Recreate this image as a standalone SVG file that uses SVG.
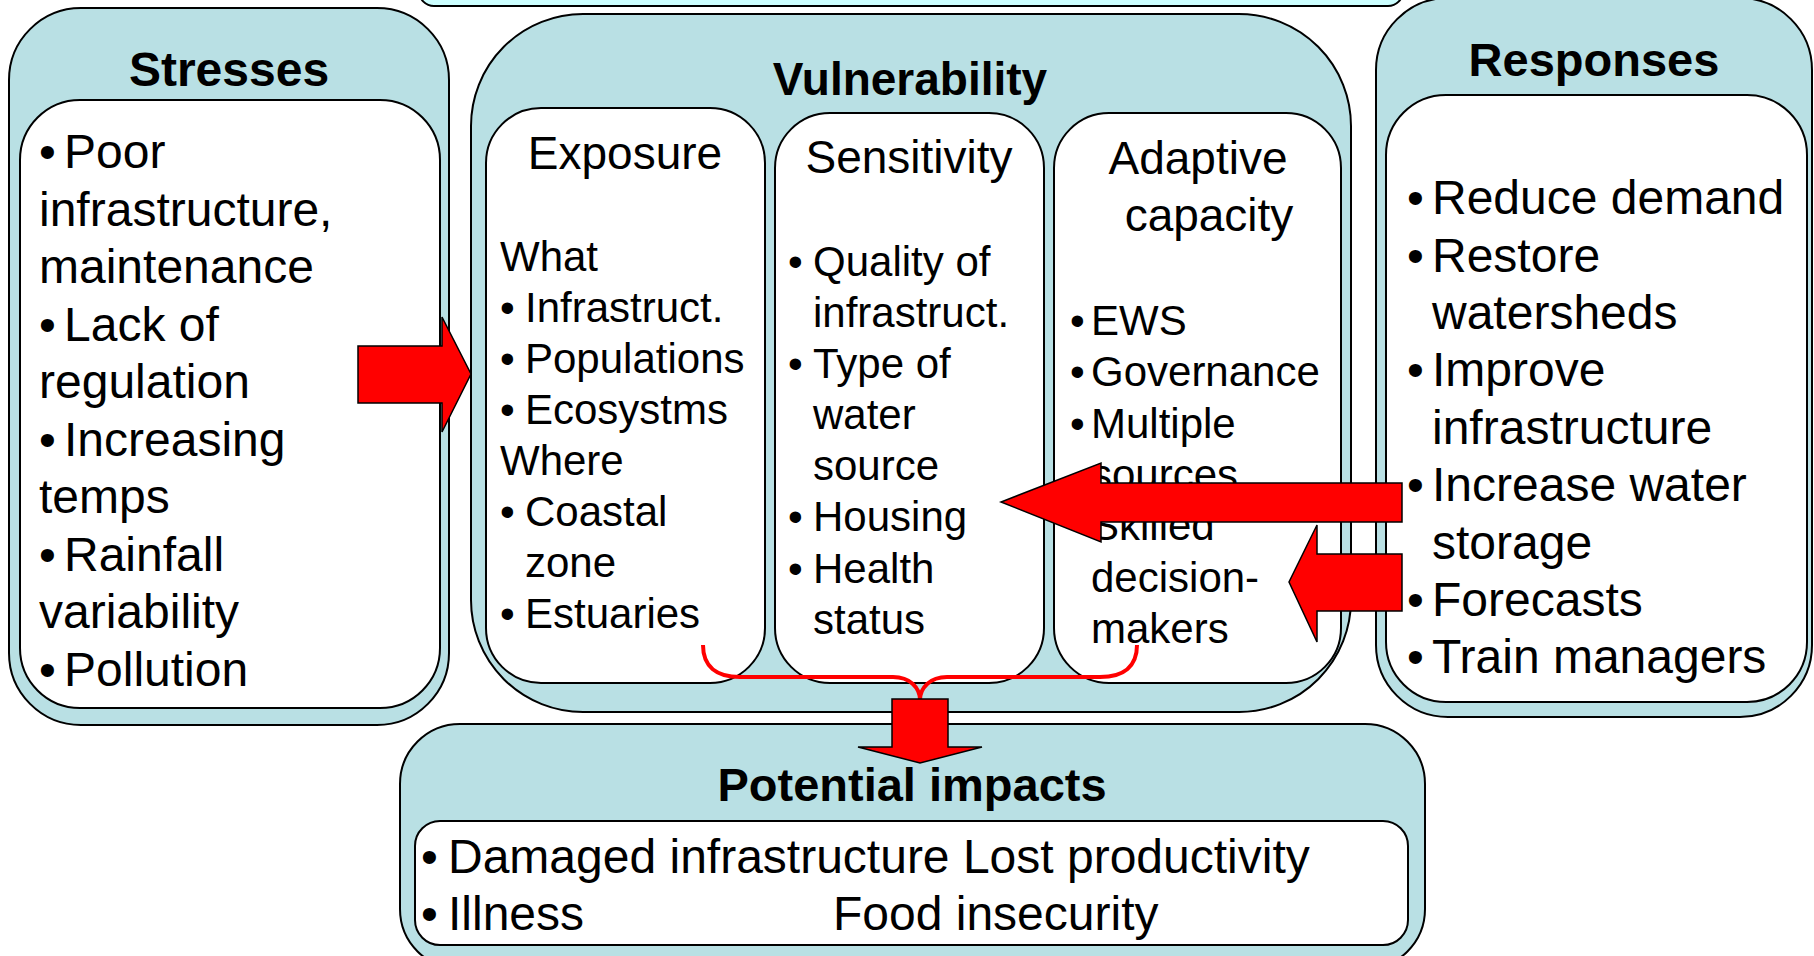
<svg xmlns="http://www.w3.org/2000/svg" width="1814" height="956" viewBox="0 0 1814 956">
<style>
  .outer { fill: #B9E0E4; stroke: #000; stroke-width: 2; }
  .inner { fill: #FFFFFF; stroke: #000; stroke-width: 2; }
  .t { font-family: "Liberation Sans", Arial, sans-serif; fill: #000; }
  .title { font-weight: bold; text-anchor: middle; }
  .big { font-size: 48px; }
  .mid { font-size: 42px; }
  .hd { font-size: 46px; text-anchor: middle; }
  .arrow { fill: #FF0000; stroke: #000; stroke-width: 1.5; stroke-linejoin: miter; }
  .brace { fill: none; stroke: #FF0000; stroke-width: 4; }
</style>

<g id="top-box">
  <rect x="419" y="-60" width="984" height="66" rx="15" ry="15" fill="#CCFFFF" stroke="#000" stroke-width="2"/>
</g>

<g id="stresses">
  <rect class="outer" x="9" y="8" width="440" height="717" rx="72" ry="72"/>
  <rect class="inner" x="20" y="100" width="420" height="608" rx="60" ry="60"/>
  <text class="t title" x="229" y="86" font-size="48">Stresses</text>
  <g class="t big">
    <text x="39" y="168">•</text><text x="64" y="168">Poor</text>
    <text x="39" y="226">infrastructure,</text>
    <text x="39" y="283">maintenance</text>
    <text x="39" y="341">•</text><text x="64" y="341">Lack of</text>
    <text x="39" y="398">regulation</text>
    <text x="39" y="456">•</text><text x="64" y="456">Increasing</text>
    <text x="39" y="513">temps</text>
    <text x="39" y="571">•</text><text x="64" y="571">Rainfall</text>
    <text x="39" y="628">variability</text>
    <text x="39" y="686">•</text><text x="64" y="686">Pollution</text>
  </g>
</g>

<g id="vulnerability">
  <rect class="outer" x="471" y="14" width="880" height="698" rx="112" ry="112"/>
  <text class="t title" x="910" y="95" font-size="46">Vulnerability</text>

  <g id="exposure">
    <rect class="inner" x="486" y="108" width="279" height="575" rx="55" ry="55"/>
    <text class="t hd" x="625" y="169">Exposure</text>
    <g class="t mid">
      <text x="500" y="271">What</text>
      <text x="500" y="322">•</text><text x="525" y="322">Infrastruct.</text>
      <text x="500" y="373">•</text><text x="525" y="373">Populations</text>
      <text x="500" y="424">•</text><text x="525" y="424">Ecosystms</text>
      <text x="500" y="475">Where</text>
      <text x="500" y="526">•</text><text x="525" y="526">Coastal</text>
      <text x="525" y="577">zone</text>
      <text x="500" y="628">•</text><text x="525" y="628">Estuaries</text>
    </g>
  </g>

  <g id="sensitivity">
    <rect class="inner" x="775" y="113" width="269" height="570" rx="55" ry="55"/>
    <text class="t hd" x="909" y="173">Sensitivity</text>
    <g class="t mid">
      <text x="788" y="276">•</text><text x="813" y="276">Quality of</text>
      <text x="813" y="327">infrastruct.</text>
      <text x="788" y="378">•</text><text x="813" y="378">Type of</text>
      <text x="813" y="429">water</text>
      <text x="813" y="480">source</text>
      <text x="788" y="531">•</text><text x="813" y="531">Housing</text>
      <text x="788" y="583">•</text><text x="813" y="583">Health</text>
      <text x="813" y="634">status</text>
    </g>
  </g>

  <g id="adaptive-capacity">
    <rect class="inner" x="1054" y="113" width="287" height="570" rx="55" ry="55"/>
    <text class="t hd" x="1198" y="174">Adaptive</text>
    <text class="t hd" x="1209" y="231">capacity</text>
    <g class="t mid">
      <text x="1070" y="335">•</text><text x="1091" y="335">EWS</text>
      <text x="1070" y="386">•</text><text x="1091" y="386">Governance</text>
      <text x="1070" y="438">•</text><text x="1091" y="438">Multiple</text>
      <text x="1091" y="489">sources</text>
      <text x="1070" y="540">•</text><text x="1091" y="540">Skilled</text>
      <text x="1091" y="592">decision-</text>
      <text x="1091" y="643">makers</text>
    </g>
  </g>
</g>

<g id="responses">
  <rect class="outer" x="1376" y="-2" width="436" height="719" rx="72" ry="72"/>
  <rect class="inner" x="1386" y="95" width="421" height="607" rx="60" ry="60"/>
  <text class="t title" x="1594" y="76" font-size="47">Responses</text>
  <g class="t big">
    <text x="1407" y="214">•</text><text x="1432" y="214">Reduce demand</text>
    <text x="1407" y="272">•</text><text x="1432" y="272">Restore</text>
    <text x="1432" y="329">watersheds</text>
    <text x="1407" y="386">•</text><text x="1432" y="386">Improve</text>
    <text x="1432" y="444">infrastructure</text>
    <text x="1407" y="501">•</text><text x="1432" y="501">Increase water</text>
    <text x="1432" y="559">storage</text>
    <text x="1407" y="616">•</text><text x="1432" y="616">Forecasts</text>
    <text x="1407" y="673">•</text><text x="1432" y="673">Train managers</text>
  </g>
</g>

<g id="potential-impacts">
  <rect class="outer" x="400" y="724" width="1025" height="245" rx="60" ry="60"/>
  <rect class="inner" x="415" y="821" width="993" height="124" rx="25" ry="25"/>
  <text class="t title" x="912" y="801" font-size="47">Potential impacts</text>
  <g class="t big">
    <text x="421" y="873">•</text><text x="448" y="873">Damaged infrastructure Lost productivity</text>
    <text x="421" y="930">•</text><text x="448" y="930">Illness</text>
    <text x="833" y="930">Food insecurity</text>
  </g>
</g>

<g id="connectors">
  <polygon class="arrow" points="358,346 442,346 442,317 471,374 442,432 442,403 358,403"/>
  <polygon class="arrow" points="1402,483 1101,483 1101,463 1001,502 1101,542 1101,522 1402,522"/>
  <polygon class="arrow" points="1402,554 1317,554 1317,525 1289,582 1317,642 1317,611 1402,611"/>
  <path class="brace" d="M703,645 C703,666 716,677 740,677 L893,677 C910,677 920,688 920,700"/>
  <path class="brace" d="M1137,645 C1137,666 1124,677 1100,677 L947,677 C930,677 920,688 920,700"/>
  <polygon class="arrow" points="892,699 948,699 948,747 982,747 920,763 858,747 892,747"/>
</g>
</svg>
